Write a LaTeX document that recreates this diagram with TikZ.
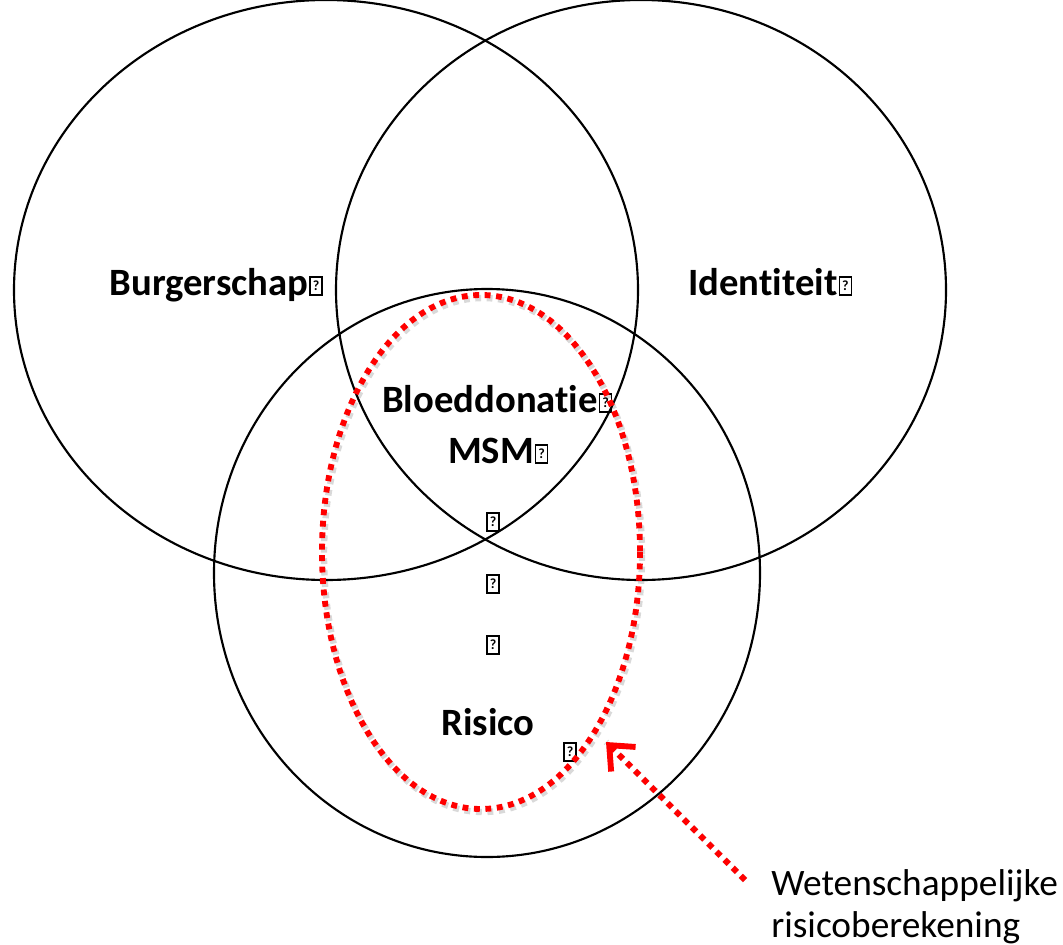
\documentclass[tikz,border=0pt]{standalone}
\usepackage{fontspec}
\setmainfont{Carlito}[Ligatures=NoCommon]
\usetikzlibrary{arrows.meta}

\tikzset{
	cirkel/.style={black, line width=1.6pt},
	stippel/.style={red, line width=4.4pt, dash pattern=on 4.4pt off 4.2pt},
	schaduw/.style={black, opacity=0.15, line width=4.8pt, dash pattern=on 4.4pt off 4.2pt},
	label/.style={font=\fontsize{29}{34}\selectfont\bfseries, anchor=base, inner sep=0pt},
	% framed question mark (missing glyph)
	vraag/.style={draw, line width=1.2pt, inner sep=0pt, minimum width=9pt, minimum height=13.5pt,
		font=\fontsize{10.5}{10.5}\selectfont\bfseries},
	achter/.style={vraag, anchor=south west, xshift=0.5pt, yshift=-0.6pt}
}

\begin{document}
\begin{tikzpicture}[x=0.75pt, y=-0.75pt]
		\useasboundingbox (0,0) rectangle (1063,945);
		
		% The three circles
		\draw[cirkel] (326,290) ellipse[x radius=312, y radius=290];
		\draw[cirkel] (641,290) ellipse[x radius=305, y radius=290];
		\draw[cirkel] (487,573) ellipse[x radius=273, y radius=284];
		
		%% Labels
		\node[label] (burgerschap) at (209,295) {Burgerschap};
		\node[achter] (vraagb) at (burgerschap.base east) {?};
		\node[label] (identiteit) at (763,295) {Identiteit};
		\node[achter] (vraagi) at (identiteit.base east) {?};
		\node[label] (bloeddonatie) at (490,412) {Bloeddonatie};
		\node[achter] (vraagd) at (bloeddonatie.base east) {?};
		\node[label] (msm) at (491,463) {MSM};
		\node[achter] (vraagm) at (msm.base east) {?};
		\node[vraag] (vraag1) at (493,522) {?};
		\node[vraag] (vraag2) at (493,584) {?};
		\node[vraag] (vraag3) at (493,645) {?};
		\node[label] (risico) at (488,735) {Risico};
		\node[vraag] (vraag4) at (570,752) {?};
		
		%% Red dotted ellipse
		\draw[schaduw] (483,555) ellipse[x radius=159, y radius=257];
		\draw[stippel] (481,552) ellipse[x radius=159, y radius=257];
		
		%% Arrow
		\coordinate (pijlbegin) at (745,880);
		\coordinate (pijlpunt) at (606,742);
		\draw[schaduw, shift={(2,3)}] (pijlbegin) -- (pijlpunt);
		\draw[stippel, -{Straight Barb[length=15pt, width=26pt, line width=4.4pt]}] (pijlbegin) -- (pijlpunt);
		
		\node[font=\fontsize{28}{31.5}\selectfont, anchor=base west, align=left, inner sep=0pt] (uitleg) at (771,937) {Wetenschappelijke\\risicoberekening};
	\end{tikzpicture}
\end{document}
